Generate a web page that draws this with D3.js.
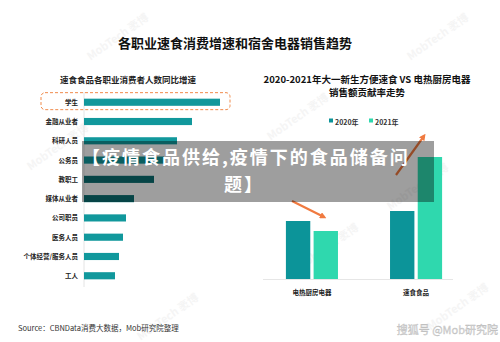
<!DOCTYPE html>
<html>
<head>
<meta charset="utf-8">
<script src="https://cdn.jsdelivr.net/npm/d3@7"></script>
<style>
  body { margin: 0; background: #fff; }
  text { font-family: "Noto Sans CJK SC", "Noto Sans", sans-serif; }
</style>
</head>
<body>
<svg id="chart"></svg>
<script>
// left chart: growth by occupation
const jobs = ["学生", "金融从业者", "科研人员", "公务员", "教职工", "媒体从业者", "公司职员", "医务人员", "个体经营/服务人员", "工人"];
const jobGrowth = [68, 54, 46.5, 40, 35, 25, 21, 19.5, 17.5, 15.5];
const darkJobs = ["教职工", "媒体从业者"];

// right chart: contribution rate
const products = ["电热厨房电器", "速食食品"];
const years = ["2020年", "2021年"];
const share2020 = [2.9, 3.4];
const share2021 = [2.4, 6.1];

const W = 500, H = 342;
const svg = d3.select("#chart").attr("width", W).attr("height", H);

// faint watermarks
const marks = [[60, 150], [170, 320], [330, 250], [420, 190], [460, 310], [120, 40], [300, 120], [440, 40]];
svg.selectAll(".wm")
  .data(marks)
  .enter()
  .append("text")
  .attr("transform", (d) => `translate(${d[0]},${d[1]}) rotate(-35)`)
  .attr("font-size", 11)
  .attr("font-weight", "bold")
  .attr("fill", "#f5f5f5")
  .attr("text-anchor", "middle")
  .text("MobTech 袤博");

// main title
svg.append("text")
  .attr("x", 235).attr("y", 48)
  .attr("text-anchor", "middle")
  .attr("font-size", 13).attr("font-weight", "bold").attr("fill", "#111")
  .text("各职业速食消费增速和宿舍电器销售趋势");

// ---- left chart ----
svg.append("text")
  .attr("x", 60).attr("y", 83)
  .attr("font-size", 8.5).attr("font-weight", "bold").attr("fill", "#222")
  .text("速食食品各职业消费者人数同比增速");

const xL = d3.scaleLinear().domain([0, 68]).range([84, 220]);
const yL = d3.scaleBand().domain(jobs).range([92.5, 285.5]).paddingInner(0.63).paddingOuter(0.32);

svg.append("line")
  .attr("x1", 84).attr("x2", 84).attr("y1", 92).attr("y2", 287)
  .attr("stroke", "#e4e4e4");

svg.selectAll(".jbar")
  .data(jobs)
  .enter()
  .append("rect")
  .attr("class", "jbar")
  .attr("x", xL(0))
  .attr("y", (d) => yL(d))
  .attr("width", (d, i) => xL(jobGrowth[i]) - xL(0))
  .attr("height", yL.bandwidth())
  .attr("fill", (d) => darkJobs.includes(d) ? "#0b6f72" : "#11989c");

svg.selectAll(".jlab")
  .data(jobs)
  .enter()
  .append("text")
  .attr("x", 78)
  .attr("y", (d) => yL(d) + yL.bandwidth() / 2 + 2.5)
  .attr("text-anchor", "end")
  .attr("font-size", 6.5).attr("font-weight", "bold").attr("fill", "#222")
  .text((d) => d);

// highlight box around first row
svg.append("rect")
  .attr("x", 41).attr("y", yL(jobs[0]) - 6)
  .attr("width", 189).attr("height", 17)
  .attr("rx", 4)
  .attr("fill", "none")
  .attr("stroke", "#f08a4b").attr("stroke-width", 1)
  .attr("stroke-dasharray", "3,2");

// ---- right chart ----
const rTitle = ["2020-2021年大一新生方便速食 VS 电热厨房电器", "销售额贡献率走势"];
svg.selectAll(".rt")
  .data(rTitle)
  .enter()
  .append("text")
  .attr("x", 367).attr("y", (d, i) => 83 + i * 13)
  .attr("text-anchor", "middle")
  .attr("font-size", 9.5).attr("font-weight", "bold").attr("fill", "#111")
  .text((d) => d);

const colors = d3.scaleOrdinal().domain(years).range(["#0c9499", "#2fd8ae"]);

const legend = svg.selectAll(".lg")
  .data(years)
  .enter()
  .append("g")
  .attr("transform", (d, i) => `translate(${329 + i * 40},122)`);
legend.append("rect").attr("x", 0).attr("y", -3.5).attr("width", 4).attr("height", 4).attr("fill", (d) => colors(d));
legend.append("text")
  .attr("x", 6).attr("y", 2.5)
  .attr("font-size", 7).attr("font-weight", "bold").attr("fill", "#333")
  .text((d) => d);

const x0 = d3.scaleBand().domain(products).range([263, 465]).paddingInner(0.5).paddingOuter(0.22);
const x1 = d3.scaleBand().domain(years).range([0, x0.bandwidth()]).paddingInner(0.12);
const yR = d3.scaleLinear().domain([0, 7]).range([279, 139]);

svg.append("line")
  .attr("x1", 263).attr("x2", 453).attr("y1", 279.5).attr("y2", 279.5)
  .attr("stroke", "#e6e6e6");

const rows = products.map((p, i) => ({ p, vals: [share2020[i], share2021[i]] }));
const grp = svg.selectAll(".pg")
  .data(rows)
  .enter()
  .append("g")
  .attr("transform", (d) => `translate(${x0(d.p)},0)`);
grp.selectAll("rect")
  .data((d) => d.vals.map((v, j) => ({ y: years[j], v })))
  .enter()
  .append("rect")
  .attr("x", (d) => x1(d.y))
  .attr("y", (d) => yR(d.v))
  .attr("width", x1.bandwidth())
  .attr("height", (d) => yR(0) - yR(d.v))
  .attr("fill", (d) => colors(d.y));

svg.selectAll(".pl")
  .data(products)
  .enter()
  .append("text")
  .attr("x", (d) => x0(d) + x0.bandwidth() / 2)
  .attr("y", 295)
  .attr("text-anchor", "middle")
  .attr("font-size", 6.5).attr("font-weight", "bold").attr("fill", "#222")
  .text((d) => d);

// trend arrows
const defs = svg.append("defs");
defs.append("marker")
  .attr("id", "ah").attr("viewBox", "0 0 10 10")
  .attr("refX", 6).attr("refY", 5)
  .attr("markerWidth", 3).attr("markerHeight", 3)
  .attr("orient", "auto")
  .append("path").attr("d", "M0,0 L10,5 L0,10 z").attr("fill", "#f07a40");

const arrows = [[292, 201, 324, 217], [396, 175, 424, 136]];
svg.selectAll(".ar")
  .data(arrows)
  .enter()
  .append("line")
  .attr("x1", (d) => d[0]).attr("y1", (d) => d[1])
  .attr("x2", (d) => d[2]).attr("y2", (d) => d[3])
  .attr("stroke", "#f07a40").attr("stroke-width", 2.2)
  .attr("marker-end", "url(#ah)");

// source and signature
svg.append("text")
  .attr("x", 18).attr("y", 331)
  .attr("font-size", 7.5).attr("fill", "#333")
  .text("Source：CBNData消费大数据，Mob研究院整理");

svg.append("text")
  .attr("x", 498).attr("y", 334)
  .attr("text-anchor", "end")
  .attr("font-size", 11).attr("fill", "#d6d6d6")
  .attr("stroke", "#bbb").attr("stroke-width", 0.3)
  .text("搜狐号 @Mob研究院");

// title banner overlay
svg.append("rect")
  .attr("x", 82).attr("y", 141)
  .attr("width", 352).attr("height", 61)
  .attr("fill", "rgba(0,0,0,0.38)");

const banner = ["【疫情食品供给,疫情下的食品储备问", "题】"];
svg.selectAll(".bn")
  .data(banner)
  .enter()
  .append("text")
  .attr("x", (d, i) => i === 0 ? 82 : 224)
  .attr("y", (d, i) => 164 + i * 26.5)
  .attr("font-size", 18).attr("font-weight", "bold").attr("fill", "#fff")
  .attr("letter-spacing", 2)
  .text((d) => d);
</script>
</body>
</html>
